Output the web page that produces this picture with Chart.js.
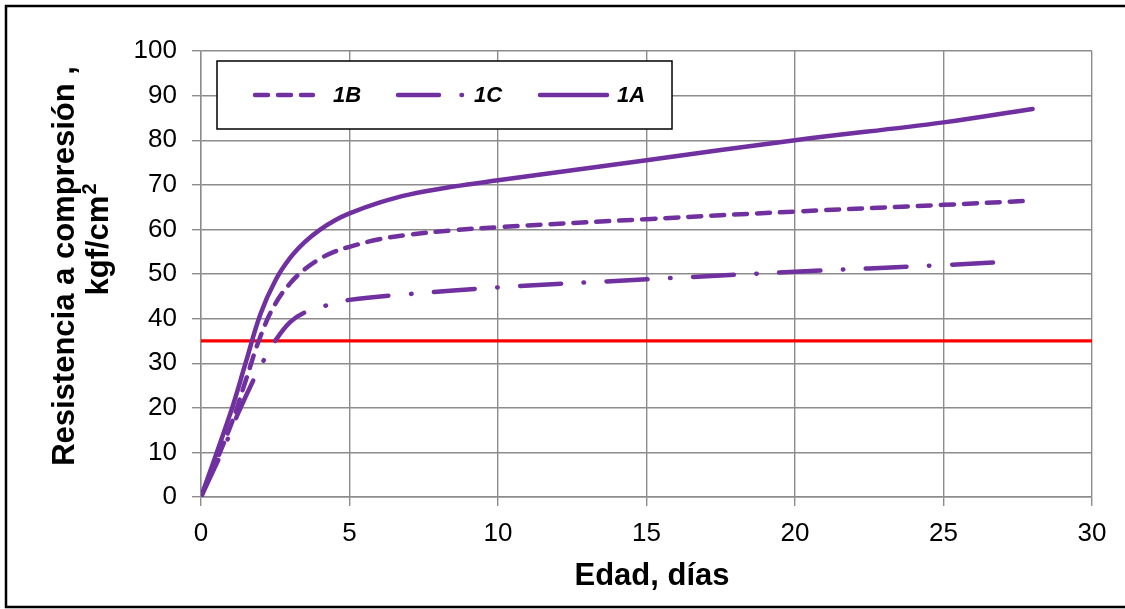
<!DOCTYPE html>
<html>
<head>
<meta charset="utf-8">
<script src="https://cdn.jsdelivr.net/npm/chart.js@4"></script>
<style>
  html, body { margin: 0; padding: 0; background: #fff; }
  #wrap { width: 1125px; height: 609px; }
</style>
</head>
<body>
<div id="wrap"><canvas id="grafico" width="1125" height="609"></canvas></div>
<script>
// Edad (días) y resistencia (kgf/cm²) de cada mezcla
const diasA = [0, 1, 1.5, 2, 2.5, 3, 3.5, 4, 4.5, 5, 6, 7, 8.5, 10, 15, 20, 25, 28];
const resA  = [0, 19, 30, 41, 48.5, 53.6, 57.2, 59.9, 62, 63.6, 66, 67.8, 69.6, 71, 75.5, 80, 84, 87];

const diasB = [0, 1, 1.5, 2, 2.5, 3, 3.5, 4, 4.5, 5, 6, 7, 8.5, 10, 15, 20, 25, 27.8];
const resB  = [0, 16, 26, 36, 43.3, 47.9, 51.1, 53.4, 55, 56.1, 57.8, 58.8, 59.8, 60.5, 62.3, 64, 65.5, 66.4];

const diasC = [0, 0.9, 1.2, 1.75, 2.1, 2.5, 3, 3.5, 4.2, 5, 7, 10, 15, 20, 25, 27.4];
const resC  = [0, 13, 18, 26, 30.5, 35, 39.2, 41.4, 42.9, 44.2, 45.5, 47, 48.8, 50.5, 52, 52.8];

// resistencia mínima de referencia
const limiteDias = [0, 30];
const limiteRes  = [35, 35];

const etiquetas = ['1B', '1C', '1A'];

const MORADO = '#7030A0';
const FUENTE = '"Liberation Sans", Arial, sans-serif';
const GUION_B = [13, 10];
const GUION_C = [41, 22.5, 0.5, 22.5];

const puntos = (xs, ys) => xs.map((x, i) => ({ x: x, y: ys[i] }));

const serie = (label, xs, ys, dash) => ({
    label: label,
    data: puntos(xs, ys),
    borderColor: MORADO,
    borderWidth: 4.5,
    borderDash: dash,
    borderCapStyle: 'round',
    borderJoinStyle: 'round',
    pointRadius: 0,
    showLine: true,
    tension: 0.4,
    fill: false
});

// Marco exterior, títulos de ejes y leyenda propia
const extras = {
    id: 'extras',
    afterDraw(chart) {
        const ctx = chart.ctx;
        ctx.save();

        ctx.strokeStyle = '#000';
        ctx.lineWidth = 2.5;
        ctx.strokeRect(6, 6, 1140, 601);

        ctx.fillStyle = '#000';
        ctx.font = 'bold 31px ' + FUENTE;
        ctx.textAlign = 'center';
        ctx.textBaseline = 'alphabetic';
        ctx.fillText('Edad, días', 652, 585);

        // título vertical en dos líneas, con el exponente aparte
        ctx.save();
        ctx.translate(74, 266);
        ctx.rotate(-Math.PI / 2);
        ctx.fillText('Resistencia a compresión ,', 0, 0);
        ctx.restore();

        ctx.save();
        ctx.translate(108, 240);
        ctx.rotate(-Math.PI / 2);
        const base = 'kgf/cm';
        const ancho = ctx.measureText(base).width;
        ctx.font = 'bold 20px ' + FUENTE;
        const anchoExp = ctx.measureText('2').width;
        const x0 = -(ancho + anchoExp) / 2;
        ctx.textAlign = 'left';
        ctx.fillText('2', x0 + ancho + 1, -12);
        ctx.font = 'bold 31px ' + FUENTE;
        ctx.fillText(base, x0, 0);
        ctx.restore();

        // leyenda
        ctx.fillStyle = '#fff';
        ctx.fillRect(217, 61, 455, 68);
        ctx.strokeStyle = '#000';
        ctx.lineWidth = 1.5;
        ctx.strokeRect(217, 61, 455, 68);

        const yl = 95;
        ctx.strokeStyle = MORADO;
        ctx.lineWidth = 4.5;
        ctx.lineCap = 'round';
        const tramo = (x0, x1, dash) => {
            ctx.setLineDash(dash);
            ctx.beginPath();
            ctx.moveTo(x0, yl);
            ctx.lineTo(x1, yl);
            ctx.stroke();
        };
        tramo(255, 313, GUION_B);
        tramo(398, 463, GUION_C);
        tramo(540, 607, []);
        ctx.setLineDash([]);

        ctx.fillStyle = '#000';
        ctx.font = 'italic bold 22px ' + FUENTE;
        ctx.textAlign = 'left';
        ctx.textBaseline = 'middle';
        ctx.fillText(etiquetas[0], 333, yl + 1);
        ctx.fillText(etiquetas[1], 474, yl + 1);
        ctx.fillText(etiquetas[2], 617, yl + 1);

        ctx.restore();
    }
};

const rejilla = {
    color: '#8c8c8c',
    lineWidth: 1.4,
    tickLength: 9,
    tickColor: '#8c8c8c'
};

new Chart(document.getElementById('grafico'), {
    type: 'scatter',
    data: {
        datasets: [
            serie(etiquetas[0], diasB, resB, GUION_B),
            serie(etiquetas[1], diasC, resC, GUION_C),
            serie(etiquetas[2], diasA, resA, []),
            {
                label: 'límite',
                data: puntos(limiteDias, limiteRes),
                borderColor: '#ff0000',
                borderWidth: 3.3,
                pointRadius: 0,
                showLine: true,
                fill: false
            }
        ]
    },
    options: {
        responsive: false,
        animation: false,
        devicePixelRatio: 1,
        layout: { padding: { top: 51, right: 33, left: 0, bottom: 0 } },
        plugins: {
            legend: { display: false },
            tooltip: { enabled: false }
        },
        scales: {
            x: {
                type: 'linear',
                min: 0,
                max: 30,
                ticks: {
                    stepSize: 5,
                    color: '#000',
                    padding: 12,
                    maxRotation: 0,
                    font: { family: FUENTE, size: 26 }
                },
                grid: rejilla,
                border: { color: '#8c8c8c', width: 1.4 },
                afterFit(scale) { scale.height = 112; }
            },
            y: {
                min: 0,
                max: 100,
                ticks: {
                    stepSize: 10,
                    color: '#000',
                    padding: 15,
                    font: { family: FUENTE, size: 26 }
                },
                grid: rejilla,
                border: { color: '#8c8c8c', width: 1.4 },
                afterFit(scale) { scale.width = 201; }
            }
        }
    },
    plugins: [extras]
});
</script>
</body>
</html>
